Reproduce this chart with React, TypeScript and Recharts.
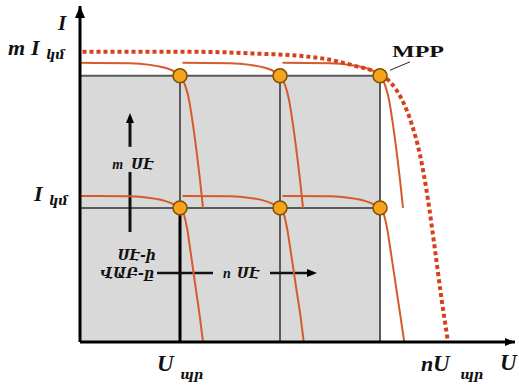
import React from 'react';
import {
  ComposedChart,
  Line,
  XAxis,
  YAxis,
  ReferenceArea,
  ReferenceLine,
  ReferenceDot,
} from 'recharts';

// ---- data (U in units of one cell Uoc, I in units of one cell Isc) ----
const lowCurve1 = [
  { u: 0, i: 1.0 }, { u: 0.4, i: 0.997 }, { u: 0.56, i: 0.986 }, { u: 0.68, i: 0.966 },
  { u: 0.76, i: 0.938 }, { u: 0.8, i: 0.918 }, { u: 0.832, i: 0.87 }, { u: 0.856, i: 0.781 },
  { u: 0.888, i: 0.596 }, { u: 0.928, i: 0.356 }, { u: 0.96, i: 0.164 }, { u: 0.984, i: 0 },
];
const lowCurve2 = [
  { u: 0.82, i: 1.0 }, { u: 1.2, i: 0.997 }, { u: 1.36, i: 0.986 }, { u: 1.48, i: 0.966 },
  { u: 1.56, i: 0.938 }, { u: 1.6, i: 0.918 }, { u: 1.632, i: 0.87 }, { u: 1.656, i: 0.781 },
  { u: 1.69, i: 0.596 }, { u: 1.732, i: 0.356 }, { u: 1.766, i: 0.164 }, { u: 1.79, i: 0 },
];
const lowCurve3 = [
  { u: 1.62, i: 1.0 }, { u: 2.0, i: 0.997 }, { u: 2.16, i: 0.986 }, { u: 2.28, i: 0.966 },
  { u: 2.36, i: 0.938 }, { u: 2.4, i: 0.918 }, { u: 2.432, i: 0.87 }, { u: 2.456, i: 0.781 },
  { u: 2.49, i: 0.596 }, { u: 2.532, i: 0.356 }, { u: 2.566, i: 0.164 }, { u: 2.594, i: 0 },
];
const upCurve1 = [
  { u: 0, i: 1.911 }, { u: 0.4, i: 1.908 }, { u: 0.56, i: 1.897 }, { u: 0.68, i: 1.877 },
  { u: 0.76, i: 1.849 }, { u: 0.8, i: 1.822 }, { u: 0.84, i: 1.76 }, { u: 0.872, i: 1.658 },
  { u: 0.904, i: 1.486 }, { u: 0.936, i: 1.281 }, { u: 0.96, i: 1.11 }, { u: 0.984, i: 0.918 },
];
const upCurve2 = [
  { u: 0.82, i: 1.911 }, { u: 1.2, i: 1.908 }, { u: 1.36, i: 1.897 }, { u: 1.48, i: 1.877 },
  { u: 1.56, i: 1.849 }, { u: 1.6, i: 1.822 }, { u: 1.64, i: 1.76 }, { u: 1.672, i: 1.658 },
  { u: 1.704, i: 1.486 }, { u: 1.736, i: 1.281 }, { u: 1.76, i: 1.11 }, { u: 1.784, i: 0.918 },
];
const upCurve3 = [
  { u: 1.62, i: 1.911 }, { u: 2.0, i: 1.908 }, { u: 2.16, i: 1.897 }, { u: 2.28, i: 1.877 },
  { u: 2.36, i: 1.849 }, { u: 2.4, i: 1.822 }, { u: 2.44, i: 1.76 }, { u: 2.472, i: 1.658 },
  { u: 2.504, i: 1.486 }, { u: 2.536, i: 1.281 }, { u: 2.56, i: 1.11 }, { u: 2.584, i: 0.918 },
];
const arrayCurve = [
  { u: 0.02, i: 1.986 }, { u: 0.96, i: 1.986 }, { u: 1.44, i: 1.973 }, { u: 1.76, i: 1.959 },
  { u: 2.0, i: 1.932 }, { u: 2.2, i: 1.89 }, { u: 2.36, i: 1.849 }, { u: 2.48, i: 1.781 },
  { u: 2.576, i: 1.658 }, { u: 2.656, i: 1.486 }, { u: 2.72, i: 1.281 }, { u: 2.784, i: 0.973 },
  { u: 2.84, i: 0.63 }, { u: 2.888, i: 0.322 }, { u: 2.944, i: 0 },
];
const mppPoints = [
  { u: 0.8, i: 1.822 }, { u: 1.6, i: 1.822 }, { u: 2.4, i: 1.822 },
  { u: 0.8, i: 0.918 }, { u: 1.6, i: 0.918 }, { u: 2.4, i: 0.918 },
];
const gridU = [0.8, 1.6, 2.4];
const gridI = [0.918, 1.822];
const xTicks = [0.8, 2.944];
const xTickPrefix = ['', 'n'];
const yTicks = [1, 2];
const yTickPrefix = ['', 'm'];
const subI = 'կմ';
const subU = 'պր';
const labelCells = 'ՍԷ';
const labelCellI = 'ՍԷ-ի';
const labelVAC = 'ՎԱԲ-ը';
const labelMPP = 'MPP';

const U_MAX = 3.48;
const I_MAX = 2.3;

const SERIF = "'Liberation Serif', 'DejaVu Serif', serif";
const ARM = "'DejaVu Serif', 'Liberation Serif', serif";
const CURVE = '#d65a2c';
const GRID = '#5a5a5a';

const txt = {
  fontFamily: SERIF,
  fontWeight: 'bold' as const,
  fontStyle: 'italic' as const,
  fill: '#111',
};

const XTick = (props: any) => {
  const { x, y, index } = props;
  const pre = xTickPrefix[index] || '';
  return (
    <g>
      {pre && (
        <text x={x - 27} y={y + 21} {...txt} fontSize={22}>{pre}</text>
      )}
      <text x={pre ? x - 15 : x - 23} y={y + 21} {...txt} fontSize={23}>U</text>
      <text x={pre ? x + 12 : x} y={y + 29} {...txt} fontFamily={ARM} fontSize={13}>{subU}</text>
    </g>
  );
};

const YTick = (props: any) => {
  const { y, index } = props;
  const pre = yTickPrefix[index] || '';
  return (
    <g>
      {pre && <text x={8} y={y + 5} {...txt} fontSize={22}>{pre}</text>}
      <text x={pre ? 31 : 34} y={y + 5} {...txt} fontSize={22}>I</text>
      <text x={pre ? 46 : 49} y={y + 9} {...txt} fontFamily={ARM} fontSize={13}>{subI}</text>
    </g>
  );
};

const arrowUp = (half: number, len: number) => (p: any) => (
  <polygon
    points={`${p.cx},${p.cy} ${p.cx - half},${p.cy + len} ${p.cx + half},${p.cy + len}`}
    fill="#000"
  />
);
const arrowRight = (half: number, len: number) => (p: any) => (
  <polygon
    points={`${p.cx},${p.cy} ${p.cx - len},${p.cy - half} ${p.cx - len},${p.cy + half}`}
    fill="#000"
  />
);
const textAt = (content: React.ReactNode, dx: number, dy: number, size: number, anchor = 'start', family = SERIF) => (p: any) => (
  <text x={p.cx + dx} y={p.cy + dy} {...txt} fontFamily={family} fontSize={size} textAnchor={anchor}>
    {content}
  </text>
);

export default function App() {
  return (
    <div style={{ position: 'absolute', left: 0, top: 0, background: '#fff' }}>
      <ComposedChart
        width={519}
        height={386}
        margin={{ top: 6, right: 4, bottom: 0, left: 0 }}
      >
        <XAxis
          type="number"
          dataKey="u"
          domain={[0, U_MAX]}
          ticks={xTicks}
          tick={<XTick />}
          tickLine={false}
          axisLine={{ stroke: '#000', strokeWidth: 3 }}
          height={44}
          allowDataOverflow
        />
        <YAxis
          type="number"
          dataKey="i"
          domain={[0, I_MAX]}
          ticks={yTicks}
          tick={<YTick />}
          tickLine={false}
          axisLine={{ stroke: '#000', strokeWidth: 3 }}
          width={80}
          allowDataOverflow
        />
        <ReferenceArea x1={0} x2={2.4} y1={0} y2={1.822} fill="#d9d9d9" fillOpacity={1} stroke="none" ifOverflow="visible" />
        {gridI.map((v) => (
          <ReferenceLine key={'gi' + v} segment={[{ x: 0, y: v }, { x: 2.4, y: v }]} stroke={GRID} strokeWidth={2} ifOverflow="visible" />
        ))}
        {gridU.map((v) => (
          <ReferenceLine key={'gu' + v} segment={[{ x: v, y: 0 }, { x: v, y: 1.822 }]} stroke={GRID} strokeWidth={2} ifOverflow="visible" />
        ))}
        <ReferenceLine segment={[{ x: 0.8, y: 0 }, { x: 0.8, y: 0.918 }]} stroke="#000" strokeWidth={3} ifOverflow="visible" />

        {/* m cells arrow */}
        <ReferenceLine segment={[{ x: 0.4, y: 0.753 }, { x: 0.4, y: 1.164 }]} stroke="#111" strokeWidth={3} ifOverflow="visible" />
        <ReferenceLine segment={[{ x: 0.4, y: 1.336 }, { x: 0.4, y: 1.52 }]} stroke="#111" strokeWidth={3} ifOverflow="visible" />
        <ReferenceDot x={0.4} y={1.568} r={0} ifOverflow="visible" shape={arrowUp(4, 10)} />
        {/* n cells arrow */}
        <ReferenceLine segment={[{ x: 0.616, y: 0.473 }, { x: 1.064, y: 0.473 }]} stroke="#111" strokeWidth={2.5} ifOverflow="visible" />
        <ReferenceLine segment={[{ x: 1.52, y: 0.473 }, { x: 1.86, y: 0.473 }]} stroke="#111" strokeWidth={2.5} ifOverflow="visible" />
        <ReferenceDot x={1.896} y={0.473} r={0} ifOverflow="visible" shape={arrowRight(4, 10)} />

        {[lowCurve1, lowCurve2, lowCurve3, upCurve1, upCurve2, upCurve3].map((d, k) => (
          <Line
            key={'c' + k}
            data={d}
            dataKey="i"
            type="monotone"
            stroke={CURVE}
            strokeWidth={2}
            dot={false}
            activeDot={false}
            isAnimationActive={false}
          />
        ))}
        <Line
          data={arrayCurve}
          dataKey="i"
          type="monotone"
          stroke="#d8401c"
          strokeWidth={4}
          strokeDasharray="4 3"
          dot={false}
          activeDot={false}
          isAnimationActive={false}
        />

        {mppPoints.map((p, k) => (
          <ReferenceDot key={'m' + k} x={p.u} y={p.i} r={7} fill="#f6a21c" stroke="#7a5200" strokeWidth={1.5} ifOverflow="visible" />
        ))}

        {/* axis arrowheads */}
        <ReferenceDot x={0} y={I_MAX} r={0} ifOverflow="visible" shape={arrowUp(5, 12)} />
        <ReferenceDot x={U_MAX} y={0} r={0} ifOverflow="visible" shape={arrowRight(4, 10)} />

        {/* texts */}
        <ReferenceDot x={0} y={I_MAX} r={0} ifOverflow="visible" shape={textAt('I', -22, 24, 21)} />
        <ReferenceDot x={U_MAX} y={0} r={0} ifOverflow="visible" shape={textAt('U', -15, 28, 23)} />
        <ReferenceDot x={0.4} y={1.22} r={0} ifOverflow="visible" shape={textAt(<><tspan fontFamily={SERIF}>m</tspan><tspan dx={8}>{labelCells}</tspan></>, 3, 5, 14, 'middle', ARM)} />
        <ReferenceDot x={0.4} y={0.473} r={0} ifOverflow="visible" shape={textAt(labelCellI, 26, -13, 14, 'end', ARM)} />
        <ReferenceDot x={0.4} y={0.473} r={0} ifOverflow="visible" shape={textAt(labelVAC, 24, 5, 14, 'end', ARM)} />
        <ReferenceDot x={1.29} y={0.473} r={0} ifOverflow="visible" shape={textAt(<><tspan fontFamily={SERIF}>n</tspan><tspan dx={6}>{labelCells}</tspan></>, 0, 5, 14, 'middle', ARM)} />
        <ReferenceLine segment={[{ x: 2.48, y: 1.86 }, { x: 2.64, y: 1.918 }]} stroke="#222" strokeWidth={1} ifOverflow="visible" />
        <ReferenceDot x={2.496} y={1.952} r={0} ifOverflow="visible" shape={(p: any) => (
          <text x={p.cx} y={p.cy} fontFamily={SERIF} fontWeight="bold" fontSize={17} fill="#111" textLength={52} lengthAdjust="spacingAndGlyphs">{labelMPP}</text>
        )} />
      </ComposedChart>
    </div>
  );
}
